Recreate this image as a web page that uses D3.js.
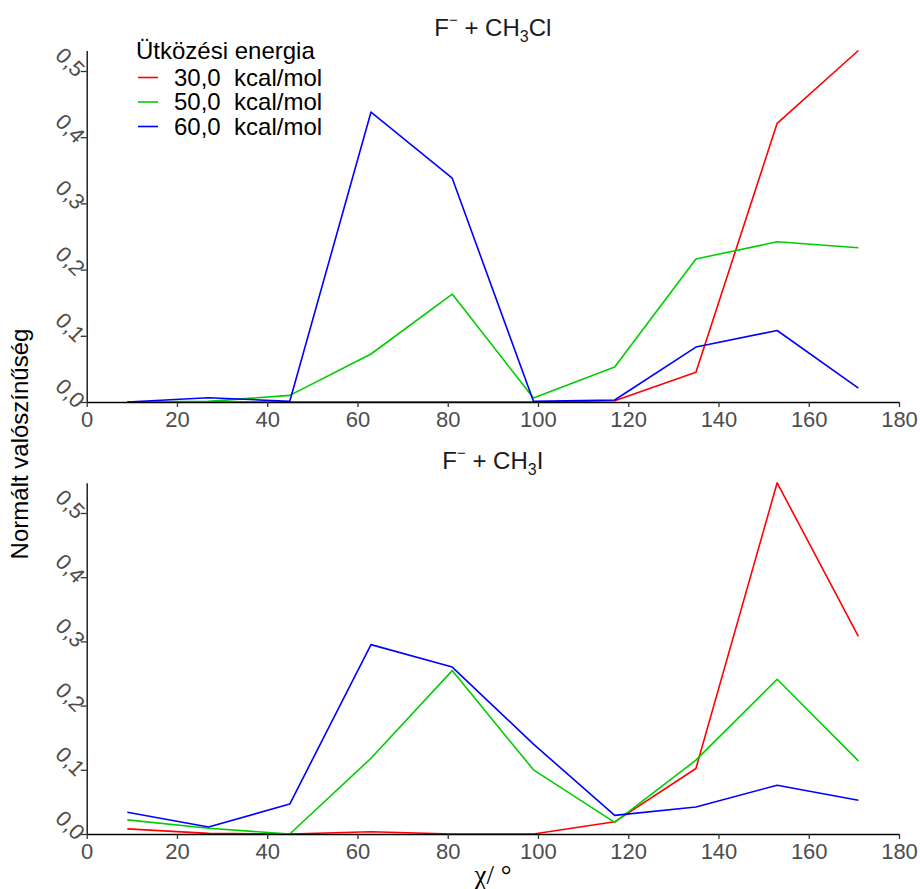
<!DOCTYPE html>
<html>
<head>
<meta charset="utf-8">
<script src="https://cdn.jsdelivr.net/npm/d3@7/dist/d3.min.js"></script>
<style>
  html, body { margin: 0; padding: 0; background: #fff; }
  svg { display: block; }
  text { font-family: "Liberation Sans", Arial, Helvetica, sans-serif; }
</style>
</head>
<body>
<svg id="chart" width="920" height="889"></svg>
<script>
// Scattering angle bin centres (degrees)
const angles = [9, 27, 45, 63, 81, 99, 117, 135, 153, 171];
const xTicks = [0, 20, 40, 60, 80, 100, 120, 140, 160, 180];
const yTicks = [0, 0.1, 0.2, 0.3, 0.4, 0.5];

const seriesNames = ["30,0  kcal/mol", "50,0  kcal/mol", "60,0  kcal/mol"];
const seriesColors = ["#ff0000", "#00cd00", "#0000ff"];

// F- + CH3Cl
const clE30 = [0, 0, 0, 0, 0, 0, 0.002, 0.045, 0.421, 0.531];
const clE50 = [0, 0.001, 0.010, 0.0725, 0.163, 0.006, 0.053, 0.216, 0.242, 0.233];
const clE60 = [0, 0.0065, 0.001, 0.438, 0.338, 0.001, 0.003, 0.083, 0.108, 0.021];

// F- + CH3I
const iE30 = [0.008, 0.001, 0, 0.0036, 0, 0, 0.019, 0.102, 0.547, 0.308];
const iE50 = [0.022, 0.009, 0, 0.118, 0.2545, 0.100, 0.018, 0.115, 0.241, 0.114];
const iE60 = [0.034, 0.011, 0.0467, 0.295, 0.260, 0.140, 0.029, 0.042, 0.076, 0.0525];

const svg = d3.select("#chart");

const x = d3.scaleLinear().domain([0, 180]).range([86.7, 899]);

const panels = [
  { formula: ["F", "−", " + CH", "3", "Cl"], series: [clE30, clE50, clE60],
    base: 402, pxPerUnit: 662, titleY: 36 },
  { formula: ["F", "−", " + CH", "3", "I"], series: [iE30, iE50, iE60],
    base: 834, pxPerUnit: 642, titleY: 469 }
];

const fmt = v => d3.format(".1f")(v).replace(".", ",");

panels.forEach(p => {
  const ymax = d3.max(p.series.flat());
  const y = d3.scaleLinear().domain([0, ymax]).range([p.base, p.base - ymax * p.pxPerUnit]);
  const g = svg.append("g");

  // data lines (drawn first so the axes sit on top)
  const line = d3.line().x((d, i) => x(angles[i])).y(d => y(d));
  p.series.forEach((s, k) => {
    g.append("path").datum(s)
      .attr("fill", "none").attr("stroke", seriesColors[k])
      .attr("stroke-width", 1.6).attr("stroke-linejoin", "round")
      .attr("d", line);
  });

  // x axis
  const xa = g.append("g").attr("transform", `translate(0,${p.base})`)
    .call(d3.axisBottom(x).tickValues(xTicks).tickSize(5).tickSizeOuter(0).tickPadding(4));
  xa.select(".domain").attr("stroke", "#000").attr("stroke-width", 1.4);
  xa.selectAll(".tick line").attr("stroke", "#333").attr("stroke-width", 1.3);
  xa.selectAll(".tick text").attr("fill", "#4d4d4d").attr("font-size", 22)
    .attr("font-family", "Liberation Sans, Arial, sans-serif");

  // y axis
  const ya = g.append("g").attr("transform", `translate(${x(0)},0)`)
    .call(d3.axisLeft(y).tickValues(yTicks).tickSize(6).tickSizeOuter(0).tickFormat(fmt));
  ya.select(".domain").attr("stroke", "#000").attr("stroke-width", 1.3);
  ya.selectAll(".tick line").attr("stroke", "#333").attr("stroke-width", 1.3);
  ya.selectAll(".tick text")
    .attr("fill", "#4d4d4d").attr("font-size", 22)
    .attr("font-family", "Liberation Sans, Arial, sans-serif")
    .attr("x", null).attr("dy", null)
    .attr("text-anchor", "end")
    .attr("transform", "translate(-11,7) rotate(45)");

  // panel title
  const cx = (x.range()[0] + x.range()[1]) / 2;
  const t = g.append("text").attr("x", cx).attr("y", p.titleY)
    .attr("text-anchor", "middle").attr("font-size", 24).attr("fill", "#1a1a1a");
  t.append("tspan").text(p.formula[0]);
  t.append("tspan").attr("font-size", 15).attr("dy", -11).text(p.formula[1]);
  t.append("tspan").attr("dy", 11).text(p.formula[2]);
  t.append("tspan").attr("font-size", 16).attr("dy", 6).text(p.formula[3]);
  t.append("tspan").attr("dy", -6).text(p.formula[4]);
});

// legend
const leg = svg.append("g");
leg.append("text").attr("x", 136).attr("y", 59).attr("font-size", 24)
  .attr("fill", "#000").text("Ütközési energia");
seriesNames.forEach((name, k) => {
  const yy = 77.5 + k * 24.5;
  leg.append("line").attr("x1", 138).attr("x2", 158).attr("y1", yy).attr("y2", yy)
    .attr("stroke", seriesColors[k]).attr("stroke-width", 1.6);
  leg.append("text").attr("x", 174).attr("y", yy + 8).attr("font-size", 24)
    .attr("fill", "#000").style("white-space", "pre").text(name);
});

// axis titles
svg.append("text")
  .attr("transform", "translate(28,444) rotate(-90)")
  .attr("text-anchor", "middle").attr("font-size", 24).attr("fill", "#000")
  .text("Normált valószínűség");

svg.append("text")
  .attr("x", 493).attr("y", 884).attr("text-anchor", "middle")
  .attr("font-size", 27).attr("fill", "#000")
  .style("font-family", "Liberation Serif, Times New Roman, serif")
  .style("white-space", "pre")
  .text("χ/ °");
</script>
</body>
</html>
